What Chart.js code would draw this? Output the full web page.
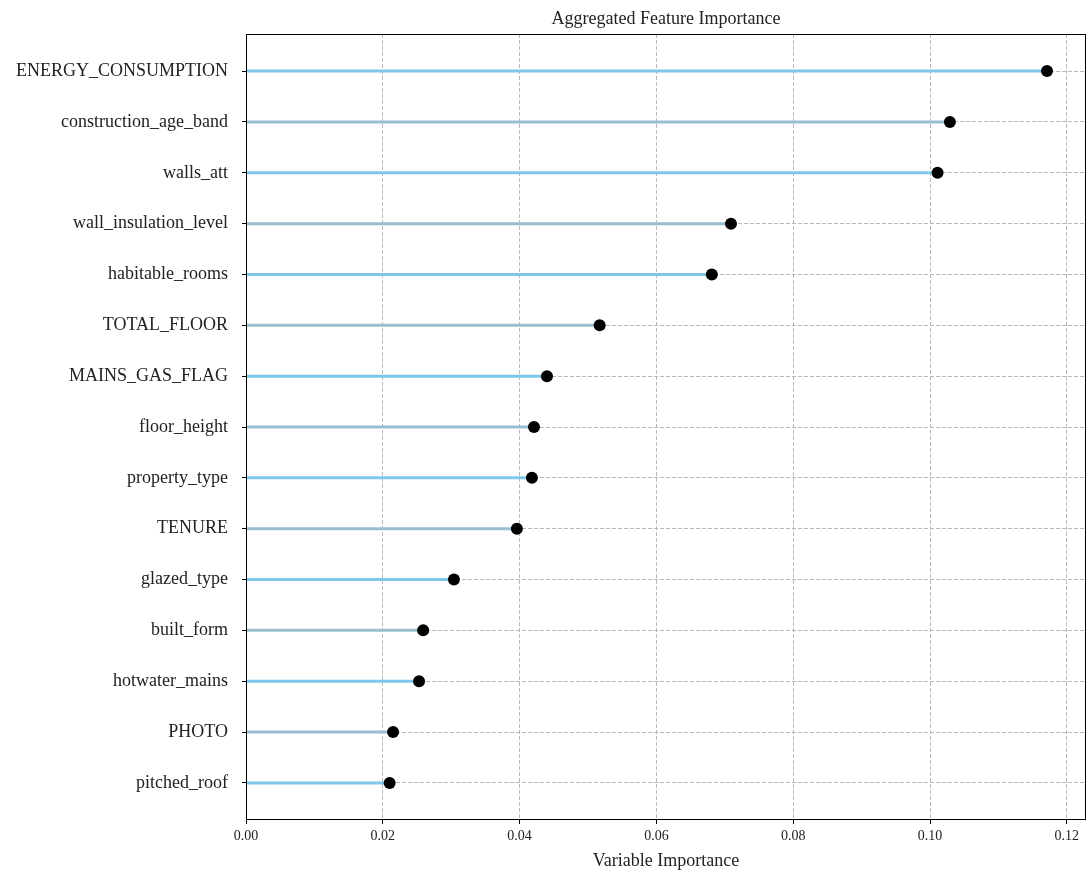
<!DOCTYPE html>
<html>
<head>
<meta charset="utf-8">
<script src="https://cdn.jsdelivr.net/npm/chart.js@4"></script>
<style>
  html, body { margin: 0; padding: 0; background: #fff; }
  #wrap { width: 1088px; height: 872px; }
</style>
</head>
<body>
<div id="wrap"><canvas id="myChart"></canvas></div>
<script>
const features = [
    'ENERGY_CONSUMPTION', 'construction_age_band', 'walls_att', 'wall_insulation_level',
    'habitable_rooms', 'TOTAL_FLOOR', 'MAINS_GAS_FLAG', 'floor_height', 'property_type',
    'TENURE', 'glazed_type', 'built_form', 'hotwater_mains', 'PHOTO', 'pitched_roof'
];
const importance = [
    0.1171, 0.1029, 0.1011, 0.0709, 0.0681, 0.0517, 0.0440, 0.0421, 0.0418,
    0.0396, 0.0304, 0.0259, 0.0253, 0.0215, 0.0210
];
const xTicks = [0.00, 0.02, 0.04, 0.06, 0.08, 0.10, 0.12];

const fonte = 'Liberation Serif';
const corTexto = '#222';
const titulo = 'Aggregated Feature Importance';
let cores = ['#7ec8e9', '#98bfd1'];

// moldura fechada e titulo centrado na area do grafico (como no matplotlib)
const moldura = {
    id: 'moldura',
    afterDatasetsDraw(chart) {
        const {ctx, chartArea: a} = chart;
        ctx.save();
        ctx.strokeStyle = '#000';
        ctx.lineWidth = 1;
        ctx.strokeRect(a.left + 0.5, a.top + 0.5, a.right - a.left - 1, a.bottom - a.top - 1);
        ctx.fillStyle = corTexto;
        ctx.font = '18px "' + fonte + '"';
        ctx.textAlign = 'center';
        ctx.textBaseline = 'middle';
        ctx.fillText(titulo, (a.left + a.right) / 2, 19);
        ctx.restore();
    }
};

const datasets = features.map((f, i) => ({
    label: f,
    data: [{x: 0, y: i}, {x: importance[i], y: i}],
    showLine: true,
    borderColor: cores[i % 2],
    borderWidth: 3,
    pointRadius: [0, 6],
    pointBackgroundColor: '#000',
    pointBorderWidth: 0
}));

new Chart(document.getElementById('myChart'), {
    type: 'scatter',
    data: {datasets},
    plugins: [moldura],
    options: {
        responsive: true,
        maintainAspectRatio: false,
        animation: false,
        events: [],
        layout: {autoPadding: false, padding: {left: 0, right: 2, top: 34, bottom: 0}},
        plugins: {
            legend: {display: false},
            tooltip: {enabled: false},
            title: {display: false}
        },
        scales: {
            x: {
                type: 'linear',
                min: 0,
                max: 0.1228,
                afterBuildTicks: s => { s.ticks = xTicks.map(v => ({value: v})); },
                afterFit: s => { s.height = 52; s.paddingRight = 0; s.paddingLeft = 0; },
                ticks: {
                    color: corTexto,
                    font: {family: fonte, size: 14},
                    padding: 4,
                    callback: v => Number(v).toFixed(2)
                },
                grid: {color: '#b8b8b8', tickColor: '#000', tickLength: 4, tickBorderDash: []},
                border: {display: false, dash: [4, 2]},
                title: {
                    display: true,
                    text: 'Variable Importance',
                    color: corTexto,
                    font: {family: fonte, size: 18},
                    padding: {top: 1, bottom: 0}
                }
            },
            y: {
                type: 'linear',
                reverse: true,
                min: -0.73,
                max: features.length - 1 + 0.73,
                afterBuildTicks: s => { s.ticks = features.map((f, i) => ({value: i})); },
                afterFit: s => { s.width = 246; s.paddingTop = 0; s.paddingBottom = 0; },
                ticks: {
                    color: corTexto,
                    font: {family: fonte, size: 18},
                    padding: 14,
                    callback: v => features[v]
                },
                grid: {color: '#b8b8b8', tickColor: '#000', tickLength: 4, tickBorderDash: []},
                border: {display: false, dash: [4, 2]}
            }
        }
    }
});
</script>
</body>
</html>
